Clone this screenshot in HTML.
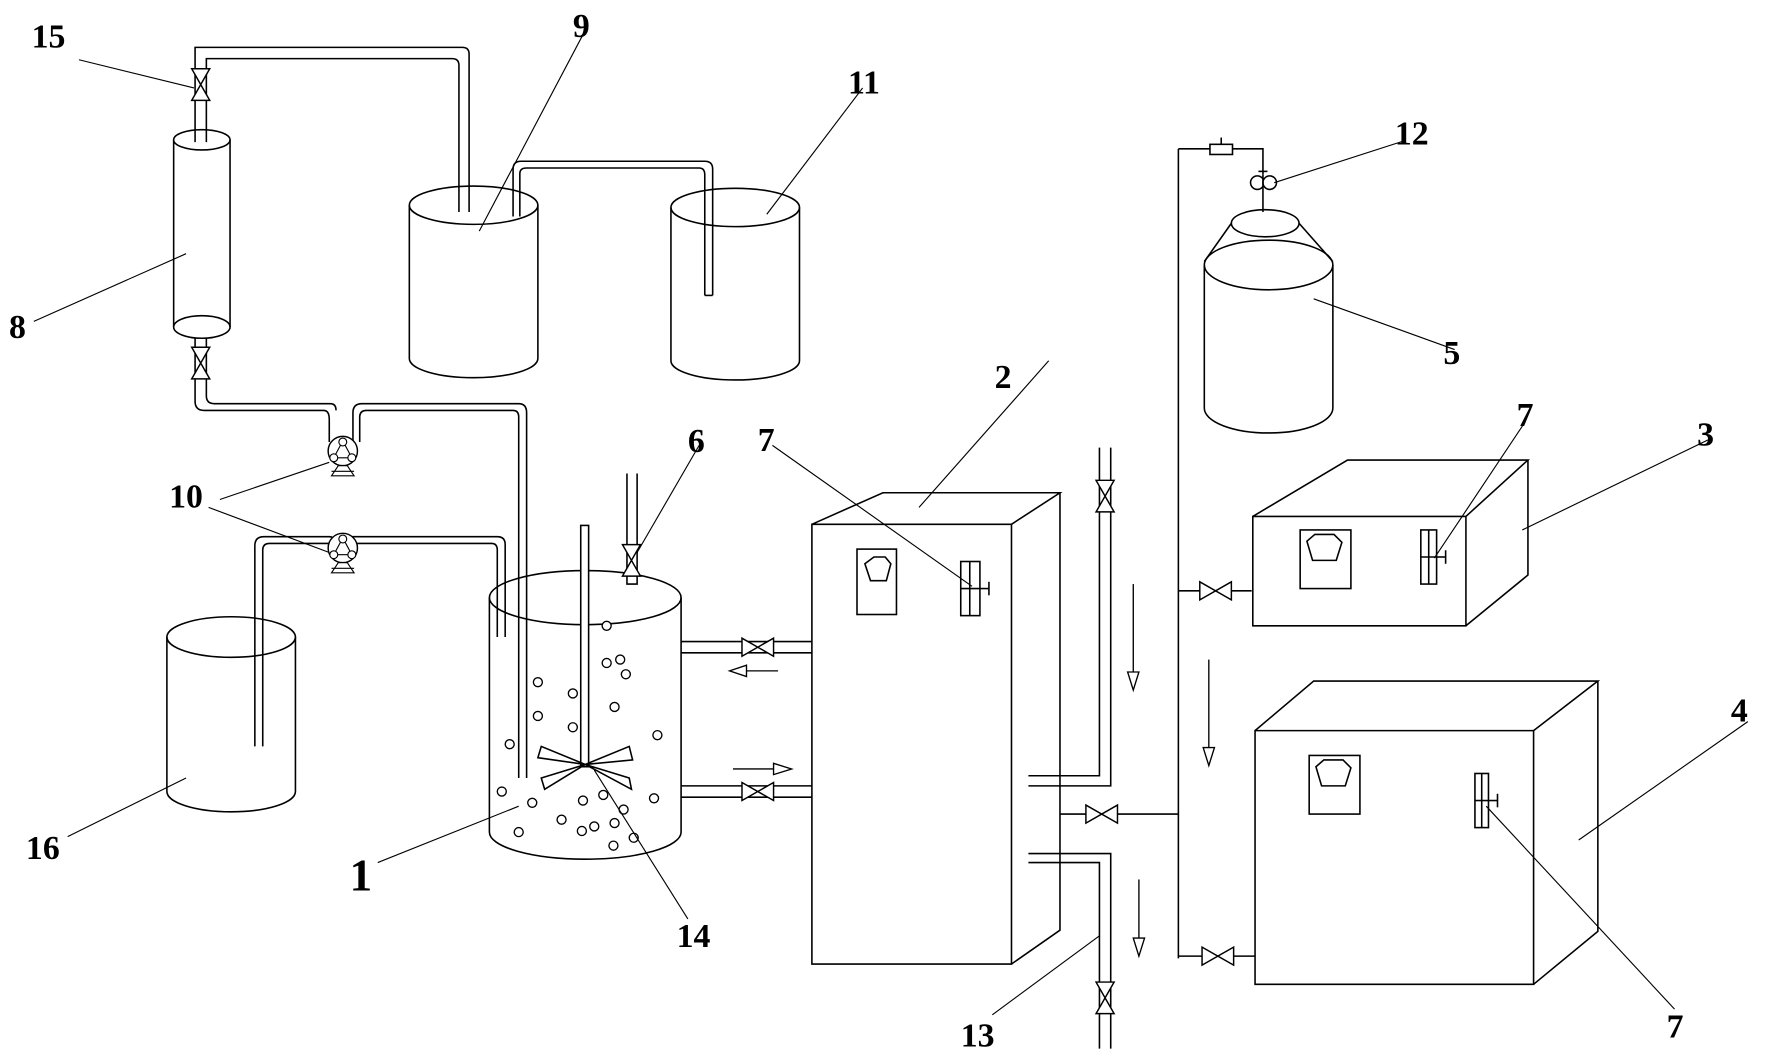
<!DOCTYPE html>
<html><head><meta charset="utf-8"><style>
html,body{margin:0;padding:0;background:#fff;}
svg{display:block;}
text{font-family:"Liberation Serif",serif;font-weight:bold;fill:#000;}
</style></head><body>
<svg width="1767" height="1061" viewBox="0 0 1567 941" preserveAspectRatio="none" xmlns="http://www.w3.org/2000/svg">
<defs>
<g id="vv"><polygon points="-8,-14 8,-14 -8,14 8,14" fill="#fff" stroke="#000" stroke-width="1.3"/></g>
<g id="hv"><polygon points="-14,-8 -14,8 14,-8 14,8" fill="#fff" stroke="#000" stroke-width="1.3"/></g>
<g id="pump"><circle r="13" fill="#fff" stroke="#000" stroke-width="1.3"/><polygon points="0,-9 -8,6 8,6" fill="none" stroke="#000"/><circle cx="0" cy="-8" r="3.5" fill="#fff" stroke="#000"/><circle cx="-8" cy="6" r="3.5" fill="#fff" stroke="#000"/><circle cx="8" cy="6" r="3.5" fill="#fff" stroke="#000"/><polygon points="-4,13 4,13 10,22 -10,22" fill="#fff" stroke="#000"/><line x1="-10" y1="18" x2="10" y2="18" stroke="#000"/></g>
</defs>
<g fill="none" stroke="#000" stroke-width="1.4">
<!-- column 8 -->
<line x1="154" y1="124" x2="154" y2="290"/><line x1="204" y1="124" x2="204" y2="290"/>
<ellipse cx="179" cy="124" rx="25" ry="9"/><ellipse cx="179" cy="290" rx="25" ry="10"/>
<path d="M173,126 V42 H410 Q416,42 416,48 V188"/>
<path d="M183,126 V52 H401 Q407,52 407,58 V188"/>
<!-- tank 9 -->
<ellipse cx="420" cy="182" rx="57" ry="17"/>
<path d="M363,182 V318 A57,17 0 0 0 477,318 V182"/>
<path d="M455,192 V150 Q455,143 462,143 H625 Q632,143 632,150 V262"/>
<path d="M461,192 V154 Q461,149 467,149 H620 Q625,149 625,155 V262"/>
<line x1="625" y1="262" x2="632" y2="262"/>
<!-- tank 11 -->
<ellipse cx="652" cy="184" rx="57" ry="17"/>
<path d="M595,184 V320 A57,17 0 0 0 709,320 V184"/>
<!-- lower column pipe to pump -->
<path d="M173,300 V356 Q173,364 181,364 H287 Q292,364 292,372 V392"/>
<path d="M183,300 V351 Q183,358 190,358 H293 Q298,358 298,364"/>
<path d="M313,392 V366 Q313,358 321,358 H460 Q467,358 467,366 V690"/>
<path d="M319,392 V370 Q319,364 325,364 H455 Q460,364 460,370 V690"/>
<!-- lower pump pipes -->
<path d="M226,662 V484 Q226,476 234,476 H292 Q297,476 297,482 V478"/>
<path d="M233,662 V488 Q233,482 239,482 H292"/>
<path d="M297,476 V482 M311,476 V482"/>
<path d="M311,476 H441 Q448,476 448,483 V565"/>
<path d="M311,482 H436 Q441,482 441,488 V565"/>
<!-- tank 16 -->
<ellipse cx="205" cy="565" rx="57" ry="18"/>
<path d="M148,565 V702 A57,18 0 0 0 262,702 V565"/>
<!-- reactor 1 -->
<ellipse cx="519" cy="530" rx="85" ry="24"/>
<path d="M434,530 V738 A85,24 0 0 0 604,738 V530"/>
<rect x="515" y="466" width="7" height="214" fill="#fff"/>
<polygon points="519,678 480,662 477,672" />
<polygon points="519,678 480,690 483,700" />
<polygon points="519,678 558,662 561,674" />
<polygon points="519,678 558,690 560,700" />
<path d="M556,420 V518 H565 V420"/>
<line x1="604" y1="569" x2="720" y2="569"/><line x1="604" y1="579" x2="720" y2="579"/>
<line x1="604" y1="697" x2="720" y2="697"/><line x1="604" y1="707" x2="720" y2="707"/>
<!-- box 2 -->
<path d="M720,465 H897 V855 H720 Z"/>
<path d="M720,465 L783,437 H940 L897,465"/><path d="M940,437 V825 L897,855"/>
<rect x="760" y="487" width="35" height="58"/>
<path d="M767,500 L775,494 H785 L790,500 L786,515 H772 Z"/>
<rect x="852" y="498" width="17" height="48"/><line x1="860" y1="498" x2="860" y2="546"/><line x1="852" y1="522" x2="869" y2="522"/><line x1="869" y1="522" x2="877" y2="522"/><line x1="877" y1="516" x2="877" y2="528"/>
<path d="M912,688 H975 V397"/><path d="M912,697 H985 V397"/>
<path d="M912,757 H985 V930"/><path d="M912,765 H975 V930"/>
<line x1="940" y1="722" x2="1045" y2="722"/>
<line x1="1045" y1="132" x2="1045" y2="850"/>
<path d="M1045,132 H1120 V155"/>
<line x1="1045" y1="524" x2="1110" y2="524"/><line x1="1045" y1="848" x2="1113" y2="848"/>
<rect x="1073" y="128" width="20" height="9" fill="#fff"/><line x1="1083" y1="122" x2="1083" y2="128"/>
<circle cx="1115" cy="162" r="6" fill="#fff"/><circle cx="1126" cy="162" r="6" fill="#fff"/><line x1="1120" y1="155" x2="1120" y2="188"/><line x1="1116" y1="152" x2="1124" y2="152"/>
<!-- cylinder 5 -->
<ellipse cx="1122" cy="198" rx="30" ry="12"/>
<line x1="1092" y1="198" x2="1068" y2="232"/><line x1="1152" y1="198" x2="1182" y2="232"/>
<ellipse cx="1125" cy="235" rx="57" ry="22"/>
<path d="M1068,235 V362 A57,22 0 0 0 1182,362 V235"/>
<!-- box 3 -->
<path d="M1111,458 H1300 V555 H1111 Z"/>
<path d="M1111,458 L1195,408 H1355 L1300,458"/><path d="M1355,408 V510 L1300,555"/>
<rect x="1153" y="470" width="45" height="52"/><path d="M1159,480 L1166,474 H1183 L1190,481 L1185,497 H1164 Z"/>
<rect x="1260" y="470" width="14" height="48"/><line x1="1267" y1="470" x2="1267" y2="518"/><line x1="1260" y1="494" x2="1274" y2="494"/><line x1="1274" y1="494" x2="1282" y2="494"/><line x1="1282" y1="488" x2="1282" y2="500"/>
<!-- box 4 -->
<path d="M1113,648 H1360 V873 H1113 Z"/>
<path d="M1113,648 L1165,604 H1417 L1360,648"/><path d="M1417,604 V826 L1360,873"/>
<rect x="1161" y="670" width="45" height="52"/><path d="M1167,680 L1174,674 H1191 L1198,681 L1193,697 H1172 Z"/>
<rect x="1308" y="686" width="12" height="48"/><line x1="1314" y1="686" x2="1314" y2="734"/><line x1="1308" y1="710" x2="1320" y2="710"/><line x1="1320" y1="710" x2="1328" y2="710"/><line x1="1328" y1="704" x2="1328" y2="716"/>
</g>
<use href="#vv" x="178" y="75"/>
<use href="#vv" x="178" y="322"/>
<use href="#vv" x="560" y="497"/>
<use href="#vv" x="980" y="440"/>
<use href="#vv" x="980" y="885"/>
<use href="#hv" x="672" y="574"/>
<use href="#hv" x="672" y="702"/>
<use href="#hv" x="977" y="722"/>
<use href="#hv" x="1078" y="524"/>
<use href="#hv" x="1080" y="848"/>
<use href="#pump" x="304" y="400"/>
<use href="#pump" x="304" y="486"/>
<g fill="#fff" stroke="#000" stroke-width="1.2">
<circle cx="538" cy="555" r="4"/><circle cx="550" cy="585" r="4"/><circle cx="538" cy="588" r="4"/><circle cx="555" cy="598" r="4"/>
<circle cx="477" cy="605" r="4"/><circle cx="508" cy="615" r="4"/><circle cx="545" cy="627" r="4"/><circle cx="477" cy="635" r="4"/><circle cx="508" cy="645" r="4"/>
<circle cx="452" cy="660" r="4"/><circle cx="583" cy="652" r="4"/><circle cx="445" cy="702" r="4"/><circle cx="535" cy="705" r="4"/><circle cx="580" cy="708" r="4"/>
<circle cx="517" cy="710" r="4"/><circle cx="472" cy="712" r="4"/><circle cx="553" cy="718" r="4"/><circle cx="545" cy="730" r="4"/><circle cx="498" cy="727" r="4"/>
<circle cx="527" cy="733" r="4"/><circle cx="516" cy="737" r="4"/><circle cx="460" cy="738" r="4"/><circle cx="562" cy="743" r="4"/><circle cx="544" cy="750" r="4"/>
</g>
<g fill="#fff" stroke="#000" stroke-width="1.2">
<line x1="690" y1="595" x2="662" y2="595"/><polygon points="647,595 662,590 662,600"/>
<line x1="650" y1="682" x2="686" y2="682"/><polygon points="702,682 686,677 686,687"/>
<line x1="1005" y1="518" x2="1005" y2="596"/><polygon points="1005,612 1000,596 1010,596"/>
<line x1="1010" y1="780" x2="1010" y2="832"/><polygon points="1010,848 1005,832 1015,832"/>
<line x1="1072" y1="585" x2="1072" y2="663"/><polygon points="1072,679 1067,663 1077,663"/>
</g>
<g stroke="#000" stroke-width="1">
<line x1="70" y1="53" x2="172" y2="78"/>
<line x1="30" y1="285" x2="165" y2="225"/>
<line x1="520" y1="25" x2="425" y2="205"/>
<line x1="765" y1="78" x2="680" y2="190"/>
<line x1="1245" y1="125" x2="1130" y2="162"/>
<line x1="1290" y1="310" x2="1165" y2="265"/>
<line x1="930" y1="320" x2="815" y2="450"/>
<line x1="685" y1="395" x2="862" y2="520"/>
<line x1="620" y1="395" x2="565" y2="490"/>
<line x1="1352" y1="375" x2="1272" y2="495"/>
<line x1="1515" y1="390" x2="1350" y2="470"/>
<line x1="1550" y1="640" x2="1400" y2="745"/>
<line x1="1485" y1="895" x2="1318" y2="715"/>
<line x1="195" y1="443" x2="292" y2="410"/>
<line x1="185" y1="450" x2="292" y2="490"/>
<line x1="60" y1="742" x2="165" y2="690"/>
<line x1="335" y1="765" x2="460" y2="715"/>
<line x1="610" y1="815" x2="527" y2="683"/>
<line x1="880" y1="900" x2="975" y2="830"/>
</g>
<g font-size="30">
<text x="28" y="42">15</text>
<text x="8" y="300">8</text>
<text x="508" y="33">9</text>
<text x="752" y="83">11</text>
<text x="1237" y="128">12</text>
<text x="1280" y="323">5</text>
<text x="882" y="344">2</text>
<text x="672" y="400">7</text>
<text x="610" y="401">6</text>
<text x="1345" y="378">7</text>
<text x="1505" y="395">3</text>
<text x="1535" y="640">4</text>
<text x="1478" y="920">7</text>
<text x="150" y="450">10</text>
<text x="23" y="762">16</text>
<text x="600" y="840">14</text>
<text x="852" y="928">13</text>
</g>
<text x="310" y="790" font-size="40">1</text>
</svg>
</body></html>
